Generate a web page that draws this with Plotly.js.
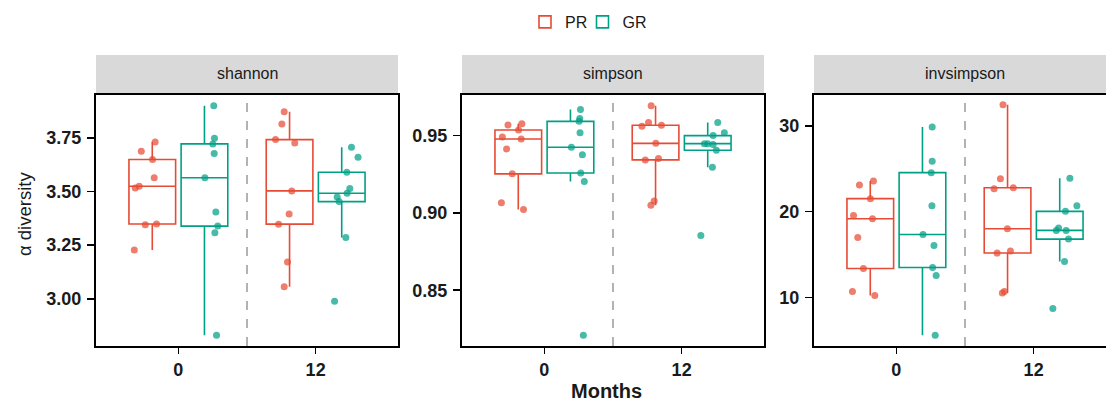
<!DOCTYPE html>
<html>
<head>
<meta charset="utf-8">
<script src="https://cdn.plot.ly/plotly-3.0.1.min.js"></script>
<style>
html,body{margin:0;padding:0;overflow:hidden;background:#fff;width:1106px;height:403px;}
#chart{width:1120px;height:403px;}
</style>
</head>
<body>
<div id="chart"></div>
<script>
// ---- categories ----
const months = ['0', '12'];
const groups = ['PR', 'GR'];
const metrics = ['shannon', 'simpson', 'invsimpson'];

// ---- values, with horizontal jitter offsets ----
const shannon_PR_0 = [3.731, 3.688, 3.649, 3.564, 3.525, 3.517, 3.345, 3.349, 3.227];
const shannon_PR_0_jit = [0.021, -0.080, 0.002, 0.014, -0.095, -0.124, -0.051, 0.031, -0.131];
const shannon_GR_0 = [3.900, 3.748, 3.722, 3.677, 3.564, 3.405, 3.339, 3.308, 2.830];
const shannon_GR_0_jit = [0.068, 0.073, 0.061, 0.071, 0.003, 0.083, 0.097, 0.076, 0.088];
const shannon_PR_12 = [3.872, 3.815, 3.742, 3.726, 3.503, 3.395, 3.348, 3.171, 3.056];
const shannon_PR_12_jit = [-0.039, -0.056, -0.102, 0.038, 0.016, -0.003, -0.080, -0.015, -0.039];
const shannon_GR_12 = [3.706, 3.660, 3.590, 3.514, 3.492, 3.474, 3.453, 3.286, 2.989];
const shannon_GR_12_jit = [0.071, 0.119, 0.037, 0.059, 0.039, -0.033, -0.019, 0.030, -0.052];

const simpson_PR_0 = [0.9567, 0.9575, 0.9534, 0.9489, 0.9476, 0.9412, 0.9251, 0.9064, 0.9021];
const simpson_PR_0_jit = [-0.075, 0.026, 0.002, -0.116, 0.021, -0.085, -0.044, -0.123, 0.038];
const simpson_GR_0 = [0.9666, 0.9608, 0.9590, 0.9517, 0.9423, 0.9375, 0.9257, 0.9201, 0.8210];
const simpson_GR_0_jit = [0.073, 0.068, 0.063, 0.070, 0.007, 0.087, 0.075, 0.101, 0.094];
const simpson_PR_12 = [0.9691, 0.9582, 0.9558, 0.9565, 0.9448, 0.9341, 0.9350, 0.9076, 0.9049];
const simpson_PR_12_jit = [-0.032, -0.051, -0.099, 0.043, 0.002, -0.075, 0.021, -0.010, -0.034];
const simpson_GR_12 = [0.9582, 0.9517, 0.9498, 0.9446, 0.9446, 0.9440, 0.9403, 0.9294, 0.8853];
const simpson_GR_12_jit = [0.073, 0.121, 0.039, -0.024, 0.000, 0.039, 0.063, 0.034, -0.050];

const invsimpson_PR_0 = [23.11, 23.58, 21.52, 19.57, 19.18, 17.00, 13.39, 10.70, 10.23];
const invsimpson_PR_0_jit = [-0.079, 0.023, 0.001, -0.122, 0.016, -0.091, -0.050, -0.130, 0.033];
const invsimpson_GR_0 = [29.88, 25.88, 24.55, 20.70, 17.35, 16.07, 13.50, 12.57, 5.60];
const invsimpson_GR_0_jit = [0.071, 0.071, 0.064, 0.069, 0.004, 0.084, 0.074, 0.100, 0.093];
const invsimpson_PR_12 = [32.45, 23.85, 22.68, 22.80, 18.02, 15.18, 15.41, 10.70, 10.54];
const invsimpson_PR_12_jit = [-0.033, -0.052, -0.098, 0.042, -0.001, -0.076, 0.021, -0.023, -0.038];
const invsimpson_GR_12 = [23.89, 20.70, 20.04, 18.09, 17.82, 17.82, 16.81, 14.20, 8.72];
const invsimpson_GR_12_jit = [0.074, 0.125, 0.042, -0.008, -0.025, 0.047, 0.064, 0.035, -0.050];

// ---- tick labels ----
const yTicks = [[3.00, 3.25, 3.50, 3.75], [0.85, 0.90, 0.95], [10, 20, 30]];
const yTickText = [['3.00', '3.25', '3.50', '3.75'], ['0.85', '0.90', '0.95'], ['10', '20', '30']];
const yRanges = [[2.78, 3.95], [0.814, 0.976], [4.35, 33.6]];

// ---- lookup ----
const DATA = {
  shannon: {PR: [shannon_PR_0, shannon_PR_12], GR: [shannon_GR_0, shannon_GR_12]},
  simpson: {PR: [simpson_PR_0, simpson_PR_12], GR: [simpson_GR_0, simpson_GR_12]},
  invsimpson: {PR: [invsimpson_PR_0, invsimpson_PR_12], GR: [invsimpson_GR_0, invsimpson_GR_12]}
};
const JIT = {
  shannon: {PR: [shannon_PR_0_jit, shannon_PR_12_jit], GR: [shannon_GR_0_jit, shannon_GR_12_jit]},
  simpson: {PR: [simpson_PR_0_jit, simpson_PR_12_jit], GR: [simpson_GR_0_jit, simpson_GR_12_jit]},
  invsimpson: {PR: [invsimpson_PR_0_jit, invsimpson_PR_12_jit], GR: [invsimpson_GR_0_jit, invsimpson_GR_12_jit]}
};

// ---- styles ----
const lineColors = {PR: '#E64B35', GR: '#00A087'};
const pointColors = {PR: 'rgba(230,75,53,0.72)', GR: 'rgba(0,160,135,0.72)'};
const legendIds = {PR: 'legend', GR: 'legend2'};
const DODGE = 0.19, BOXW = 0.34;
const FIGW = 1120, FIGH = 403;
const panelPx = [[96, 398], [462, 764], [814, 1116]];
const plotTop = 95, plotBottom = 346, stripTop = 55;
const FONT = 'Liberation Sans, Arial, Helvetica, sans-serif';

const traces = [];
metrics.forEach((m, i) => {
  const ax = i === 0 ? '' : String(i + 1);
  groups.forEach((g, gi) => {
    const off = gi === 0 ? -DODGE : DODGE;
    const bx = [], by = [];
    months.forEach((mo, k) => {
      DATA[m][g][k].forEach(v => { bx.push(k + off); by.push(v); });
    });
    traces.push({
      type: 'box', x: bx, y: by, name: g, legendgroup: g, showlegend: i === 0,
      legend: legendIds[g],
      xaxis: 'x' + ax, yaxis: 'y' + ax,
      width: BOXW, whiskerwidth: 0, quartilemethod: 'inclusive',
      boxpoints: 'outliers', marker: {opacity: 0, size: 1},
      line: {color: lineColors[g], width: 1.6}, fillcolor: 'rgba(255,255,255,0)',
      hoverinfo: 'skip'
    });
  });
  groups.forEach((g, gi) => {
    const off = gi === 0 ? -DODGE : DODGE;
    const px = [], py = [];
    months.forEach((mo, k) => {
      DATA[m][g][k].forEach((v, j) => { px.push(k + off + JIT[m][g][k][j]); py.push(v); });
    });
    traces.push({
      type: 'scatter', mode: 'markers', x: px, y: py, name: g, legendgroup: g, showlegend: false,
      legend: legendIds[g],
      xaxis: 'x' + ax, yaxis: 'y' + ax,
      marker: {color: pointColors[g], size: 7, line: {width: 0}},
      hoverinfo: 'y'
    });
  });
});

const legendBase = {
  orientation: 'h', xanchor: 'left', y: 1 - 5 / FIGH, yanchor: 'top',
  font: {family: FONT, size: 16, color: '#1a1a1a'}, bgcolor: 'rgba(0,0,0,0)',
  itemclick: false
};
const yDom = [(FIGH - plotBottom) / FIGH, (FIGH - plotTop) / FIGH];
const layout = {
  width: FIGW, height: FIGH,
  margin: {l: 0, r: 0, t: 0, b: 0},
  paper_bgcolor: '#fff', plot_bgcolor: '#fff',
  font: {family: FONT, color: '#1a1a1a'},
  showlegend: true,
  legend: Object.assign({}, legendBase, {x: 525 / FIGW}),
  legend2: Object.assign({}, legendBase, {x: 582.5 / FIGW}),
  shapes: [], annotations: []
};

metrics.forEach((m, i) => {
  const ax = i === 0 ? '' : String(i + 1);
  const dom = [panelPx[i][0] / FIGW, panelPx[i][1] / FIGW];
  layout['xaxis' + ax] = {
    domain: dom, anchor: 'y' + ax, range: [-0.6, 1.6],
    tickvals: [0, 1], ticktext: months,
    showgrid: false, zeroline: false, showline: true, mirror: true,
    linecolor: '#000', linewidth: 2,
    ticks: 'outside', ticklen: 6, tickwidth: 1.5, tickcolor: '#000',
    tickfont: {family: FONT, size: 18, color: '#1a1a1a', weight: 'bold'},
    fixedrange: true
  };
  layout['yaxis' + ax] = {
    domain: yDom, anchor: 'x' + ax, range: yRanges[i],
    tickvals: yTicks[i], ticktext: yTickText[i],
    showgrid: false, zeroline: false, showline: true, mirror: true,
    linecolor: '#000', linewidth: 2,
    ticks: 'outside', ticklen: 7, tickwidth: 1.5, tickcolor: '#000',
    ticklabelstandoff: 2,
    tickfont: {family: FONT, size: 18, color: '#1a1a1a', weight: 'bold'},
    fixedrange: true
  };
  // dashed separator between months
  layout.shapes.push({
    type: 'line', xref: 'x' + ax, yref: 'y' + ax + ' domain',
    x0: 0.5, x1: 0.5, y0: 0, y1: 1,
    line: {color: '#8a8a8a', width: 1.3, dash: 'dash'}
  });
  // strip
  layout.shapes.push({
    type: 'rect', xref: 'paper', yref: 'paper',
    x0: dom[0], x1: dom[1], y0: yDom[1], y1: (FIGH - stripTop) / FIGH,
    fillcolor: '#D9D9D9', line: {width: 0}, layer: 'below'
  });
  layout.annotations.push({
    xref: 'paper', yref: 'paper', x: (dom[0] + dom[1]) / 2, y: (FIGH - 74) / FIGH,
    xanchor: 'center', yanchor: 'middle', showarrow: false, text: m,
    font: {family: FONT, size: 16, color: '#1a1a1a'}
  });
});

// axis titles
layout.annotations.push({
  xref: 'paper', yref: 'paper', x: 606 / FIGW, y: (FIGH - 391) / FIGH,
  xanchor: 'center', yanchor: 'middle', showarrow: false, text: 'Months',
  font: {family: FONT, size: 20, color: '#1a1a1a', weight: 'bold'}
});
layout.annotations.push({
  xref: 'paper', yref: 'paper', x: 24 / FIGW, y: (FIGH - 214) / FIGH,
  xanchor: 'center', yanchor: 'middle', showarrow: false, text: 'α diversity', textangle: -90,
  font: {family: FONT, size: 18.5, color: '#1a1a1a'}
});

Plotly.newPlot('chart', traces, layout, {displayModeBar: false, staticPlot: true});
</script>
</body>
</html>
